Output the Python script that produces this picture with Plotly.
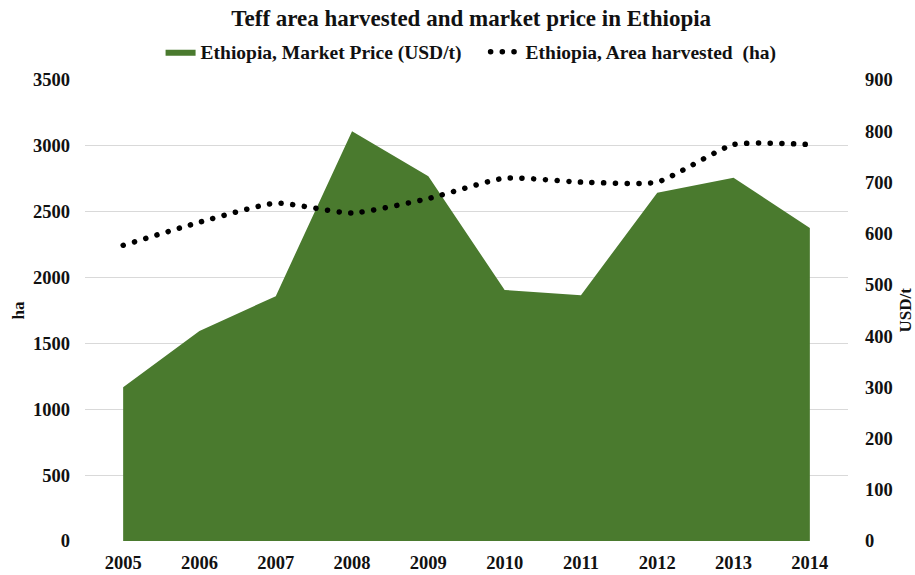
import plotly.graph_objects as go

years = [2005, 2006, 2007, 2008, 2009, 2010, 2011, 2012, 2013, 2014]
market_price_usd_t = [300, 410, 478, 800, 712, 490, 480, 680, 709, 611]
area_harvested_ha = [2245, 2420, 2565, 2490, 2600, 2755, 2725, 2725, 3010, 3010]

FONT = "Liberation Serif, Times New Roman, serif"
GREEN = "#4A7A2E"

fig = go.Figure()
fig.add_trace(go.Scatter(
    x=years, y=market_price_usd_t, name="Ethiopia, Market Price (USD/t)",
    mode="lines", fill="tozeroy", fillcolor=GREEN,
    line=dict(width=0, color=GREEN), yaxis="y",
))
fig.add_trace(go.Scatter(
    x=years, y=area_harvested_ha, name="Ethiopia, Area harvested  (ha)",
    mode="lines", line=dict(color="black", width=5.5, dash="5px,6.5px", shape="spline", smoothing=0.5),
    yaxis="y2",
))

tickfont = dict(family=FONT, size=18.5, color="#111", weight="bold")
titlefont = dict(family=FONT, size=17, color="#111", weight="bold")
fig.update_layout(
    width=915, height=575,
    paper_bgcolor="white", plot_bgcolor="white",
    margin=dict(l=85, r=67, t=80, b=34),
    title=dict(text="Teff area harvested and market price in Ethiopia", x=0.515, xanchor="center",
               y=1 - 18 / 575, yanchor="middle",
               font=dict(family=FONT, size=23, color="#111", weight="bold")),
    legend=dict(orientation="h", x=0.525, xanchor="center", yref="container", y=1 - 52 / 575,
                yanchor="middle", entrywidth=280,
                font=dict(family=FONT, size=19.5, color="#111", weight="bold"),
                bgcolor="rgba(0,0,0,0)", itemwidth=30, tracegroupgap=0),
    xaxis=dict(range=[2004.5, 2014.5], tickmode="array", tickvals=years,
               ticktext=[str(y) for y in years], showgrid=False, zeroline=False,
               showline=False, ticks="", tickfont=tickfont, automargin=False,
               ticklabelstandoff=8),
    yaxis=dict(side="right", range=[0, 900], dtick=100, showgrid=False, zeroline=False,
               showline=False, ticks="", tickfont=tickfont, ticklabelstandoff=16,
               automargin=False),
    yaxis2=dict(overlaying="y", side="left", range=[0, 3500], dtick=500, showgrid=True,
                gridcolor="#D9D9D9", gridwidth=1, zeroline=False, showline=False, ticks="",
                tickfont=tickfont, ticklabelstandoff=14, automargin=False),
    annotations=[
        dict(text="ha", xref="paper", yref="paper", x=-(85 - 18) / 763, y=0.5,
             xanchor="center", yanchor="middle", textangle=-90, showarrow=False, font=titlefont),
        dict(text="USD/t", xref="paper", yref="paper", x=1 + (905 - 848) / 763, y=0.5,
             xanchor="center", yanchor="middle", textangle=-90, showarrow=False, font=titlefont),
    ],
)

post = """
document.body.style.margin='0';
document.querySelectorAll('path').forEach(function(p){
  var d = p.style.strokeDasharray;
  if (d && d !== 'none') { p.style.strokeLinecap = 'round'; p.style.strokeDasharray = '0.1px,11.6px'; }
});
"""
fig.write_html("out.html", config={"displayModeBar": False}, post_script=post)
